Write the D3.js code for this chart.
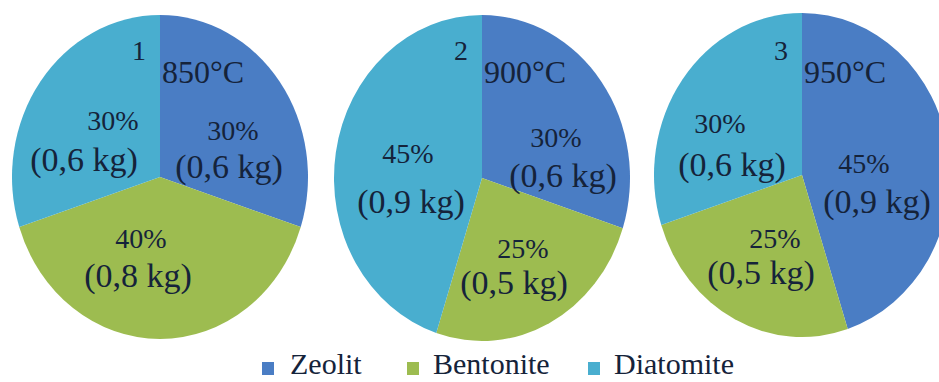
<!DOCTYPE html>
<html>
<head>
<meta charset="utf-8">
<script src="https://cdn.jsdelivr.net/npm/d3@7/dist/d3.min.js"></script>
</head>
<body style="margin:0">
<svg id="chart" width="939" height="382" font-family="Liberation Serif" style="font-family: 'Liberation Serif'"></svg>
<script>
// Mixture composition for three firing temperatures
const pieNumbers   = ["1", "2", "3"];
const temperatures = ["850°C", "900°C", "950°C"];
const materials    = ["Zeolit", "Bentonite", "Diatomite"];
const percentShares = [
  [30, 40, 30],
  [30, 25, 45],
  [45, 25, 30]
];
const massKg = [
  [0.6, 0.8, 0.6],
  [0.6, 0.5, 0.9],
  [0.9, 0.5, 0.6]
];

// Layout of each pie: centre and elliptical radii
const pieLayout = [
  { cx: 160, cy: 177, rx: 148, ry: 162 },
  { cx: 482, cy: 178, rx: 148, ry: 163 },
  { cx: 802, cy: 175, rx: 148, ry: 162 }
];
// Label anchors (pct line centre/baseline, kg line centre/baseline) per pie, per material
const labelLayout = [
  [ { px: 233, py: 140, kx: 229, ky: 178 },
    { px: 141, py: 248, kx: 138, ky: 287 },
    { px: 113, py: 130, kx: 84,  ky: 171 } ],
  [ { px: 556, py: 147, kx: 563, ky: 187 },
    { px: 523, py: 258, kx: 514, ky: 294 },
    { px: 408, py: 163, kx: 411, ky: 213 } ],
  [ { px: 864, py: 173, kx: 877, ky: 213 },
    { px: 775, py: 248, kx: 761, ky: 284 },
    { px: 720, py: 133, kx: 732, ky: 176 } ]
];

const INK = "#15233a";

const color = d3.scaleOrdinal()
  .domain(materials)
  .range(["#4a7dc4", "#9dbc50", "#49aecf"]);

const svg = d3.select("#chart");
const R = 100;
const pie = d3.pie().sort(null).value(d => d.value);
const arc = d3.arc().innerRadius(0).outerRadius(R);
const fmtKg = v => "(" + d3.format(".1f")(v).replace(".", ",") + " kg)";

function addText(x, y, size, str, anchor) {
  return svg.append("text")
    .attr("x", x).attr("y", y)
    .style("font-family", `"Liberation Serif"`)
    .attr("font-size", size)
    .attr("fill", INK)
    .attr("text-anchor", anchor || "start")
    .text(str);
}

percentShares.forEach((shares, i) => {
  const L = pieLayout[i];
  const data = shares.map((v, j) => ({ name: materials[j], value: v, kg: massKg[i][j] }));

  const g = svg.append("g")
    .attr("transform", `translate(${L.cx},${L.cy}) scale(${L.rx / R},${L.ry / R})`);
  g.selectAll("path")
    .data(pie(data))
    .join("path")
    .attr("d", arc)
    .attr("fill", d => color(d.data.name));
});

percentShares.forEach((shares, i) => {
  const L = pieLayout[i];
  // pie number and temperature
  addText(L.cx - 14, 60, 28, pieNumbers[i], "end");
  addText(L.cx + 2, 83, 32, temperatures[i]);

  // slice labels
  shares.forEach((v, j) => {
    const p = labelLayout[i][j];
    addText(p.px, p.py, 28, v + "%", "middle");
    addText(p.kx, p.ky, 34, fmtKg(massKg[i][j]), "middle");
  });
});

// legend
const legendX = [262, 407, 588];
materials.forEach((m, j) => {
  svg.append("rect")
    .attr("x", legendX[j]).attr("y", 362)
    .attr("width", 12).attr("height", 13)
    .attr("fill", color(m));
  addText(legendX[j] + (j === 0 ? 28 : 26), 374, 30, m);
});
</script>
</body>
</html>
